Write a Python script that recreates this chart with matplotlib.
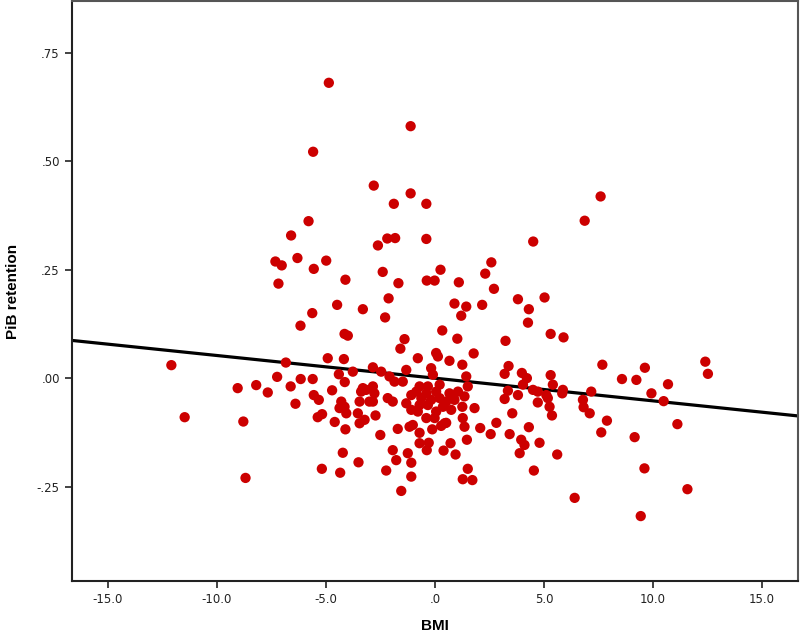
import numpy as np
import matplotlib
matplotlib.use('Agg')
import matplotlib.pyplot as plt

# Dane (BMI vs PiB retention)
bmi = [
    -4.86, -5.58, -1.11, -2.80, -1.88, -1.11, -0.39, 7.60, 6.87, -5.79,
    -6.59, -2.61, -2.18, -1.82, -0.39, 4.51, -6.30, -7.31, -7.02, -5.55,
    -4.98, -4.10, -7.17, -4.48, -5.62, -6.16, -4.14, -3.99, -4.91, -4.17,
    -12.08, -6.83, -4.40, -4.13, -7.23, -6.15, -5.60, -9.04, -8.19, -7.66,
    -6.61, -5.55, -4.71, -5.32, -6.39, -4.29, -4.14, -4.37, -4.06, -11.47,
    -8.78, -5.37, -5.17, -4.59, -4.10, -4.22, -5.18, -4.34, -8.68, -2.39,
    -1.67, -0.37, -0.01, 0.26, 1.10, 2.31, 2.59, 2.71, -3.30, -2.12,
    -2.28, 0.90, 1.44, 1.21, 2.17, 0.34, -1.39, -1.58, 1.03, -0.78,
    0.06, 0.14, 0.67, 1.26, 1.78, -3.76, -2.84, -2.46, -2.08, -1.85,
    -1.31, -1.47, -0.17, -0.09, 1.44, 1.51, -3.30, -2.84, -0.70, -0.32,
    0.22, -3.45, -3.00, -2.84, -2.77, -3.38, -3.15, -2.16, -1.93, -3.53,
    -3.22, -3.45, -2.72, -2.50, -1.70, -1.16, -1.01, -0.70, -0.12, 0.29,
    0.52, 1.28, 1.36, 1.82, 1.26, 2.08, 2.56, 2.82, 1.47, -0.70,
    -0.28, -0.37, 0.72, 0.40, 0.95, -1.93, -1.24, -1.77, -1.08, -3.50,
    -2.23, -1.08, -1.54, 1.51, 1.28, 1.72, -1.31, -1.08, -0.85, -0.62,
    -1.08, -0.78, -0.39, -0.17, 0.06, 0.22, 0.37, 0.06, -0.39, 0.67,
    0.90, 0.75, 1.06, 1.36, -0.70, -0.32, 0.52, -0.01, 0.45, 3.81,
    5.03, 4.31, 4.27, 5.31, 5.90, 3.24, 7.68, 3.38, 3.20, 3.99,
    4.22, 5.31, 8.58, 9.24, 4.04, 5.41, 3.35, 4.50, 4.72, 5.87,
    7.17, 3.81, 3.20, 5.11, 5.18, 4.72, 5.26, 5.37, 5.84, 6.79,
    6.82, 7.10, 7.89, 7.63, 9.16, 3.55, 3.43, 4.31, 3.96, 4.11,
    3.89, 4.80, 5.61, 4.54, 6.41, 9.63, 12.40, 12.52, 10.69, 9.93,
    10.49, 11.12, 9.61, 11.58, 9.44,
]
pib = [
    0.681, 0.522, 0.581, 0.444, 0.402, 0.426, 0.402, 0.419, 0.363, 0.362,
    0.329, 0.306, 0.322, 0.323, 0.321, 0.315, 0.277, 0.269, 0.260, 0.252,
    0.271, 0.227, 0.218, 0.169, 0.150, 0.121, 0.102, 0.098, 0.046, 0.044,
    0.030, 0.036, 0.009, -0.009, 0.003, -0.002, -0.002, -0.023, -0.016, -0.033,
    -0.019, -0.039, -0.028, -0.050, -0.059, -0.054, -0.066, -0.069, -0.081, -0.090,
    -0.100, -0.090, -0.083, -0.101, -0.118, -0.172, -0.209, -0.218, -0.230, 0.245,
    0.219, 0.225, 0.225, 0.250, 0.221, 0.241, 0.267, 0.206, 0.159, 0.184,
    0.140, 0.172, 0.165, 0.144, 0.169, 0.110, 0.090, 0.068, 0.091, 0.046,
    0.058, 0.050, 0.040, 0.031, 0.057, 0.015, 0.025, 0.015, 0.004, -0.008,
    0.019, -0.008, 0.023, 0.008, 0.004, -0.019, -0.023, -0.019, -0.019, -0.019,
    -0.015, -0.054, -0.054, -0.054, -0.035, -0.031, -0.027, -0.046, -0.054, -0.081,
    -0.096, -0.104, -0.086, -0.131, -0.117, -0.112, -0.108, -0.126, -0.118, -0.110,
    -0.103, -0.092, -0.112, -0.069, -0.066, -0.115, -0.129, -0.103, -0.142, -0.150,
    -0.149, -0.166, -0.150, -0.167, -0.176, -0.166, -0.173, -0.189, -0.195, -0.194,
    -0.213, -0.227, -0.260, -0.209, -0.233, -0.235, -0.058, -0.039, -0.031, -0.046,
    -0.073, -0.077, -0.035, -0.050, -0.031, -0.046, -0.066, -0.077, -0.092, -0.035,
    -0.050, -0.073, -0.031, -0.042, -0.062, -0.062, -0.054, -0.092, -0.104, 0.182,
    0.186, 0.159, 0.128, 0.102, 0.094, 0.086, 0.031, 0.028, 0.010, 0.012,
    0.000, 0.007, -0.002, -0.004, -0.015, -0.015, -0.029, -0.027, -0.031, -0.027,
    -0.031, -0.039, -0.048, -0.039, -0.046, -0.056, -0.066, -0.086, -0.035, -0.050,
    -0.067, -0.081, -0.098, -0.125, -0.136, -0.081, -0.129, -0.113, -0.142, -0.154,
    -0.173, -0.149, -0.176, -0.213, -0.276, 0.024, 0.038, 0.010, -0.014, -0.035,
    -0.053, -0.106, -0.208, -0.256, -0.318,
]

# Linia regresji
fit_intercept = 0.0
fit_slope = -0.00523

x_ticks = [-15, -10, -5, 0, 5, 10, 15]
x_labels = ['-15.0', '-10.0', '-5.0', '.0', '5.0', '10.0', '15.0']
y_ticks = [-0.25, 0.0, 0.25, 0.5, 0.75]
y_labels = ['-.25', '.00', '.25', '.50', '.75']

fig = plt.figure(figsize=(8, 6.35), dpi=100)
ax = fig.add_axes([0.0896, 0.0855, 0.9079, 0.9125])

ax.scatter(bmi, pib, s=55, color='#cc0000', edgecolors='none', zorder=3)
ax.axline((0, fit_intercept), slope=fit_slope, color='black', linewidth=2.3, zorder=2)

ax.set_xlim(-16.65, 16.65)
ax.set_ylim(-0.467, 0.869)

ax.set_xticks(x_ticks)
ax.set_xticklabels(x_labels)
ax.set_yticks(y_ticks)
ax.set_yticklabels(y_labels)
ax.tick_params(direction='out', length=5, width=1.2, labelsize=8.5, colors='#222222')

for side in ['left', 'bottom']:
    ax.spines[side].set_linewidth(1.5)
    ax.spines[side].set_color('#222222')
for side in ['top', 'right']:
    ax.spines[side].set_linewidth(1.5)
    ax.spines[side].set_color('#555555')

ax.set_xlabel('BMI', fontsize=11, fontweight='bold', family='Liberation Sans', labelpad=10)
ax.set_ylabel('PiB retention', fontsize=11, fontweight='bold', family='Liberation Sans', labelpad=12)

fig.savefig('out.png', dpi=100)
